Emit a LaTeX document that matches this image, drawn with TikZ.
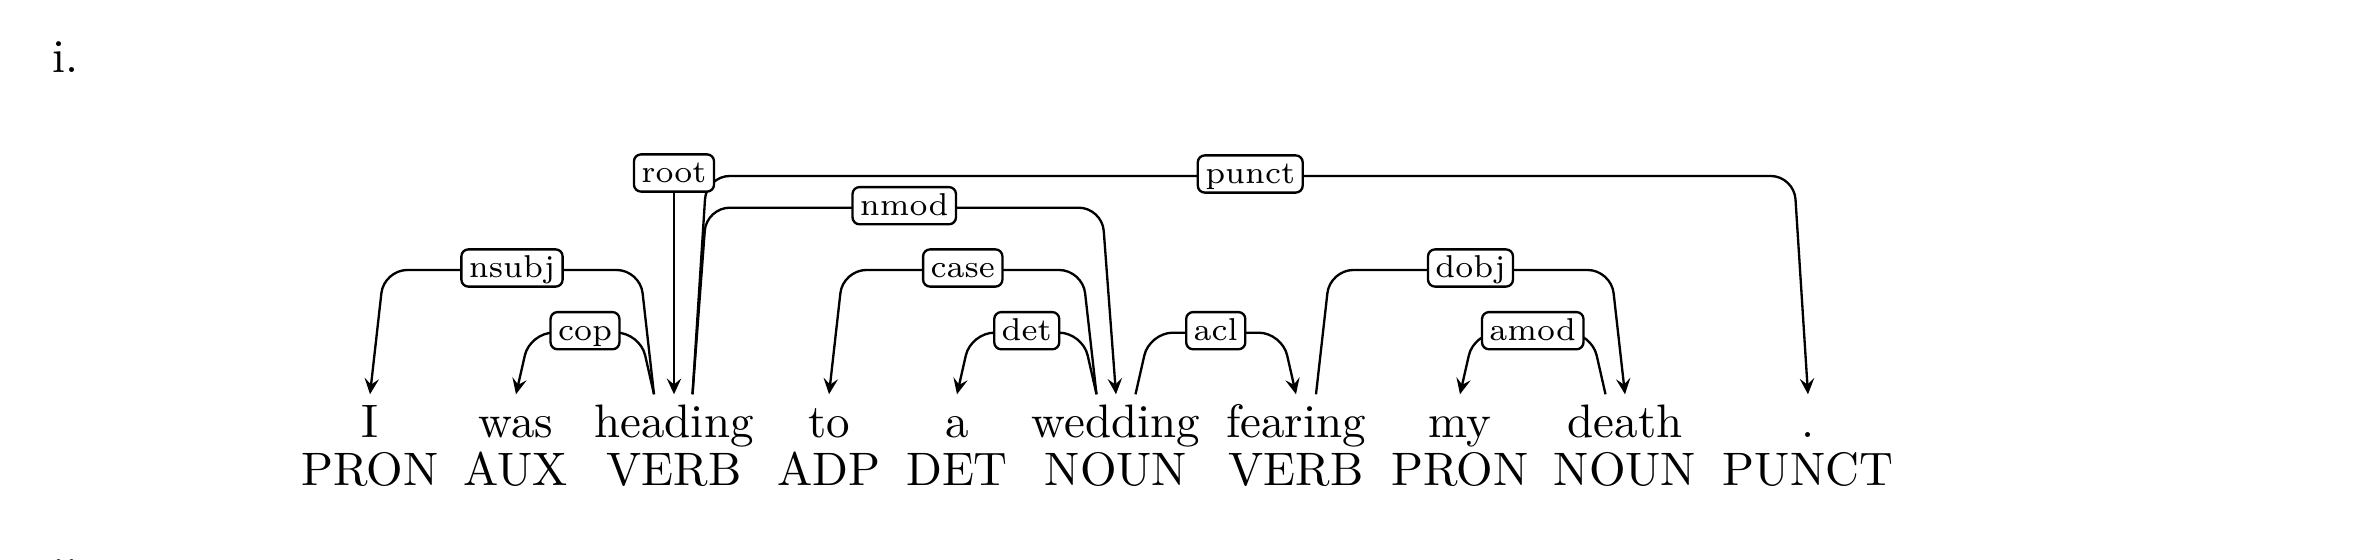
\documentclass[tikz,border=0pt]{standalone}
\usetikzlibrary{calc,arrows.meta}
\tikzset{
  word/.style={anchor=base, inner sep=0pt, text height=9.2pt, font=\fontsize{10.1}{12}\selectfont},
  postag/.style={anchor=base, inner sep=0pt, font=\fontsize{10.1}{12}\selectfont},
  deplabel/.style={draw, line width=0.5pt, rounded corners=1.5pt, fill=white,
    font=\fontsize{6.8}{8.2}\selectfont, inner xsep=1.6pt, inner ysep=1pt,
    text height=5.1pt, text depth=0.9pt},
  depedge/.style={line width=0.5pt, rounded corners=5pt,
    -{Stealth[length=3.4pt, width=3.1pt, inset=1.3pt]}},
  numtext/.style={anchor=base west, inner sep=0pt, font=\fontsize{10.1}{12}\selectfont}
}
% #1 head node, #2 start offset, #3 dependent node, #4 level coordinate,
% #5 slant at head, #6 slant at dependent, #7 label
\newcommand\depedgecmd[7]{%
  \coordinate (dA) at ($(#1.north)+(#2,0)$);
  \coordinate (dE) at (#3.north);
  \coordinate (dB) at ($(dA |- #4)+(#5,0)$);
  \coordinate (dC) at ($(dE |- #4)+(#6,0)$);
  \draw[depedge] (dA) -- (dB) -- (dC) -- (dE);
  \node[deplabel] at ($(dB)!0.5!(dC)+(0,-2)$) {#7};
}
\begin{document}
\begin{tikzpicture}[x=0.21505pt, y=-0.21505pt]
\useasboundingbox (0,0) rectangle (2376,560);
\node[numtext] (n1) at (52,73) {i.};
\node[numtext] (n2) at (52,591) {ii.};
% words
\node[word] (w1) at (370,438) {I};
\node[word] (w2) at (516,438) {was};
\node[word] (w3) at (674,438) {heading};
\node[word] (w4) at (829,438) {to};
\node[word] (w5) at (957,438) {a};
\node[word] (w6) at (1116,438) {wedding};
\node[word] (w7) at (1296,438) {fearing};
\node[word] (w8) at (1460,438) {my};
\node[word] (w9) at (1625,438) {death};
\node[word] (w10) at (1808,438) {.};
% POS tags
\node[postag] (p1) at (370,486) {PRON};
\node[postag] (p2) at (516,486) {AUX};
\node[postag] (p3) at (674,486) {VERB};
\node[postag] (p4) at (829,486) {ADP};
\node[postag] (p5) at (957,486) {DET};
\node[postag] (p6) at (1116,486) {NOUN};
\node[postag] (p7) at (1296,486) {VERB};
\node[postag] (p8) at (1460,486) {PRON};
\node[postag] (p9) at (1625,486) {NOUN};
\node[postag] (p10) at (1808,486) {PUNCT};
% levels
\coordinate (L1) at (0,332.7);
\coordinate (L2) at (0,270);
\coordinate (L3) at (0,207.7);
\coordinate (L4) at (0,176);
% edges
\depedgecmd{w3}{-20}{w1}{L2}{-14}{14}{nsubj}
\depedgecmd{w3}{-20}{w2}{L1}{-14}{14}{cop}
\depedgecmd{w3}{18.5}{w6}{L3}{14}{-14}{nmod}
\depedgecmd{w3}{18.5}{w10}{L4}{14}{-14}{punct}
\depedgecmd{w6}{-19.5}{w4}{L2}{-14}{14}{case}
\depedgecmd{w6}{-19.5}{w5}{L1}{-14}{14}{det}
\depedgecmd{w6}{19.5}{w7}{L1}{14}{-14}{acl}
\depedgecmd{w7}{20}{w9}{L2}{14}{-14}{dobj}
\depedgecmd{w9}{-19.5}{w8}{L1}{-14}{14}{amod}
% root
\node[deplabel] (root) at (674,173) {root};
\draw[depedge] (root.south) -- (w3.north);
\end{tikzpicture}
\end{document}
